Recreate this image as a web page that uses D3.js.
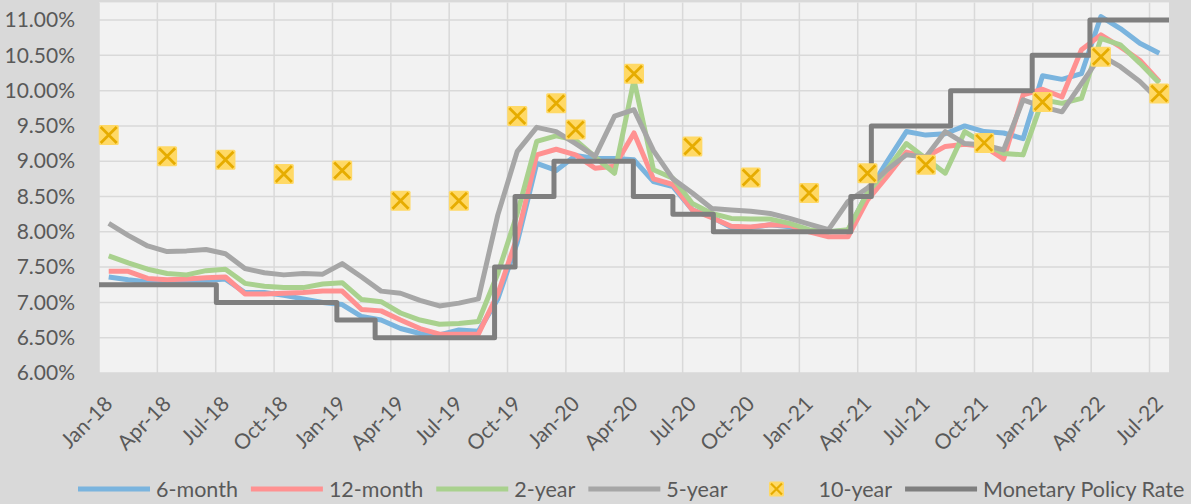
<!DOCTYPE html>
<html>
<head>
<meta charset="utf-8">
<script src="https://cdn.jsdelivr.net/npm/d3@7"></script>
<style>
  body { margin: 0; background: #d9d9d9; }
  svg { display: block; font-family: Lato, "Open Sans", sans-serif; }
</style>
</head>
<body>
<div id="chart"></div>
<script>
// categories (one per month)
var months = [
    "Jan-18", "Feb-18", "Mar-18", "Apr-18", "May-18", "Jun-18", "Jul-18", "Aug-18", "Sep-18", "Oct-18", "Nov-18", "Dec-18",
    "Jan-19", "Feb-19", "Mar-19", "Apr-19", "May-19", "Jun-19", "Jul-19", "Aug-19", "Sep-19", "Oct-19", "Nov-19", "Dec-19",
    "Jan-20", "Feb-20", "Mar-20", "Apr-20", "May-20", "Jun-20", "Jul-20", "Aug-20", "Sep-20", "Oct-20", "Nov-20", "Dec-20",
    "Jan-21", "Feb-21", "Mar-21", "Apr-21", "May-21", "Jun-21", "Jul-21", "Aug-21", "Sep-21", "Oct-21", "Nov-21", "Dec-21",
    "Jan-22", "Feb-22", "Mar-22", "Apr-22", "May-22", "Jun-22", "Jul-22"
];

var sixMonth = [
    7.36, 7.32, 7.29, 7.29, 7.29, 7.31, 7.33, 7.14, 7.14, 7.10, 7.05, 7.00,
    6.97, 6.80, 6.75, 6.63, 6.56, 6.54, 6.61, 6.59, 7.05, 7.85, 8.97, 8.87,
    9.08, 9.04, 9.04, 9.02, 8.71, 8.64, 8.31, 8.21, 8.06, 8.06, 8.10, 8.07,
    8.01, 8.00, 8.02, 8.55, 8.99, 9.42, 9.37, 9.39, 9.50, 9.42, 9.40, 9.32,
    10.21, 10.16, 10.24, 11.05, 10.88, 10.67, 10.53
];
var twelveMonth = [
    7.44, 7.44, 7.34, 7.32, 7.33, 7.35, 7.36, 7.12, 7.12, 7.13, 7.14, 7.16,
    7.16, 6.90, 6.88, 6.75, 6.63, 6.55, 6.55, 6.55, 7.12, 7.93, 9.09, 9.17,
    9.09, 8.90, 8.93, 9.40, 8.75, 8.67, 8.31, 8.20, 8.08, 8.07, 8.10, 8.09,
    8.00, 7.93, 7.93, 8.45, 8.78, 9.13, 9.06, 9.21, 9.24, 9.21, 9.03, 9.94,
    10.02, 9.91, 10.58, 10.79, 10.62, 10.43, 10.13
];
var twoYear = [
    7.66, 7.56, 7.47, 7.41, 7.39, 7.45, 7.47, 7.27, 7.23, 7.21, 7.21, 7.26,
    7.28, 7.04, 7.01, 6.85, 6.75, 6.69, 6.70, 6.73, 7.41, 8.26, 9.28, 9.36,
    9.30, 9.06, 8.83, 10.15, 8.88, 8.76, 8.40, 8.26, 8.19, 8.18, 8.18, 8.12,
    8.03, 8.00, 8.03, 8.55, 8.88, 9.25, 9.04, 8.83, 9.42, 9.25, 9.11, 9.09,
    9.87, 9.82, 9.89, 10.74, 10.65, 10.39, 10.11
];
var fiveYear = [
    8.12, 7.95, 7.80, 7.72, 7.73, 7.75, 7.69, 7.48, 7.42, 7.39, 7.41, 7.40,
    7.55, 7.36, 7.16, 7.13, 7.03, 6.95, 6.99, 7.05, 8.24, 9.14, 9.48, 9.42,
    9.25, 9.07, 9.64, 9.73, 9.15, 8.75, 8.55, 8.33, 8.31, 8.29, 8.26, 8.19,
    8.11, 8.03, 8.43, 8.62, 8.88, 9.09, 9.06, 9.42, 9.25, 9.23, 9.16, 9.87,
    9.77, 9.70, 10.10, 10.50, 10.34, 10.13, 9.86
];
var tenYear = [
    9.37, null, null, 9.07, null, null, 9.02, null, null, 8.82, null, null,
    8.87, null, null, 8.44, null, null, 8.44, null, null, 9.64, null, 9.82,
    9.45, null, null, 10.24, null, null, 9.21, null, null, 8.77, null, null,
    8.55, null, null, 8.83, null, null, 8.95, null, null, 9.26, null, null,
    9.84, null, null, 10.48, null, null, 9.96
];

// monetary policy rate: date of each change and the new rate
var policyDates = [
    "2018-01-01", "2018-07-02", "2019-01-08", "2019-03-07", "2019-09-11", "2019-10-13",
    "2019-12-13", "2020-04-15", "2020-06-16", "2020-08-19", "2021-03-21", "2021-04-22",
    "2021-08-25", "2021-12-31", "2022-03-30", "2022-08-01"
];
var policyRates = [
    7.25, 7.00, 6.75, 6.50, 7.50, 8.50,
    9.00, 8.50, 8.25, 8.00, 8.50, 9.50,
    10.00, 10.50, 11.00, 11.00
];

var xTickLabels = [
    "Jan-18", "Apr-18", "Jul-18", "Oct-18", "Jan-19", "Apr-19", "Jul-19", "Oct-19", "Jan-20", "Apr-20",
    "Jul-20", "Oct-20", "Jan-21", "Apr-21", "Jul-21", "Oct-21", "Jan-22", "Apr-22", "Jul-22"
];
var yTicks = [6.00, 6.50, 7.00, 7.50, 8.00, 8.50, 9.00, 9.50, 10.00, 10.50, 11.00];

var seriesNames = ["6-month", "12-month", "2-year", "5-year", "10-year", "Monetary Policy Rate"];
var seriesColors = ["#7ab4de", "#ff9191", "#a9d18e", "#a6a6a6", "#ffd966", "#7f7f7f"];

var width = 1191;
var height = 504;
// note: "top" is taken by window.top, hence the plot* names
var plotLeft = 99, plotRight = 1169, plotTop = 2.4, plotBottom = 373;
var textColor = "#595959";
var markerStroke = "#e6ac00";

var svg = d3.select("#chart").append("svg")
    .attr("width", width)
    .attr("height", height);

svg.append("rect")
    .attr("width", width)
    .attr("height", height)
    .attr("fill", "#d9d9d9");

var x = d3.scaleBand().domain(months).range([plotLeft, plotRight]);
var xMonth = d3.scaleLinear().domain([0, months.length]).range([plotLeft, plotRight]);
var y = d3.scaleLinear().domain([6, 11.25]).range([plotBottom, plotTop]);

function cx(i) {
    return x(months[i]) + x.bandwidth() / 2;
}

// fractional month index of a date, so the policy steps land inside the month
function monthPos(s) {
    var d = d3.timeParse("%Y-%m-%d")(s);
    var start = d3.timeMonth.floor(d);
    var next = d3.timeMonth.offset(start, 1);
    var idx = (d.getFullYear() - 2018) * 12 + d.getMonth();
    return idx + (d - start) / (next - start);
}

svg.append("rect")
    .attr("x", plotLeft)
    .attr("y", plotTop)
    .attr("width", plotRight - plotLeft)
    .attr("height", plotBottom - plotTop)
    .attr("fill", "#f2f2f2");

// grid
svg.append("g")
    .selectAll("line")
    .data(yTicks)
    .enter()
    .append("line")
    .attr("x1", plotLeft)
    .attr("x2", plotRight)
    .attr("y1", function (d) { return y(d); })
    .attr("y2", function (d) { return y(d); })
    .attr("stroke", "#d9d9d9")
    .attr("stroke-width", 1.5);

svg.append("g")
    .selectAll("line")
    .data(months.filter(function (d, i) { return i % 3 === 0; }))
    .enter()
    .append("line")
    .attr("x1", function (d) { return x(d); })
    .attr("x2", function (d) { return x(d); })
    .attr("y1", plotTop)
    .attr("y2", plotBottom)
    .attr("stroke", "#d9d9d9")
    .attr("stroke-width", 1.5);

// y axis labels
var yAxis = svg.append("g")
    .attr("transform", "translate(" + plotLeft + ",0)")
    .call(d3.axisLeft(y)
        .tickValues(yTicks)
        .tickSize(0)
        .tickPadding(24)
        .tickFormat(function (d) { return d3.format(".2f")(d) + "%"; }));
yAxis.select(".domain").remove();
yAxis.selectAll("text")
    .attr("font-family", "Lato, 'Open Sans', sans-serif")
    .attr("font-size", "21px")
    .attr("fill", textColor);

// x axis labels
svg.append("g")
    .selectAll("text")
    .data(xTickLabels)
    .enter()
    .append("text")
    .attr("transform", function (d) {
        return "translate(" + cx(months.indexOf(d)) + "," + 400 + ") rotate(-45)";
    })
    .attr("text-anchor", "end")
    .attr("dy", "0.35em")
    .attr("font-size", "21px")
    .attr("fill", textColor)
    .text(function (d) { return d; });

// yield lines
var lineSeries = [sixMonth, twelveMonth, twoYear, fiveYear];
var line = d3.line()
    .defined(function (d) { return d != null; })
    .x(function (d, i) { return cx(i); })
    .y(function (d) { return y(d); });

svg.append("g")
    .selectAll("path")
    .data(lineSeries)
    .enter()
    .append("path")
    .attr("d", line)
    .attr("fill", "none")
    .attr("stroke", function (d, i) { return seriesColors[i]; })
    .attr("stroke-width", 5)
    .attr("stroke-linejoin", "round");

// policy rate step line
var policy = policyDates.map(function (d, i) {
    return [monthPos(d), policyRates[i]];
});
svg.append("path")
    .datum(policy)
    .attr("d", d3.line()
        .curve(d3.curveStepAfter)
        .x(function (d) { return xMonth(d[0]); })
        .y(function (d) { return y(d[1]); }))
    .attr("fill", "none")
    .attr("stroke", seriesColors[5])
    .attr("stroke-width", 5)
    .attr("stroke-linejoin", "round");

// 10-year markers
function drawMarker(g, size) {
    var h = size / 2;
    var k = h - 2;
    g.append("rect")
        .attr("x", -h)
        .attr("y", -h)
        .attr("width", size)
        .attr("height", size)
        .attr("rx", 1.5)
        .attr("fill", seriesColors[4]);
    g.append("path")
        .attr("d", "M" + -k + "," + -k + "L" + k + "," + k + "M" + -k + "," + k + "L" + k + "," + -k)
        .attr("stroke", markerStroke)
        .attr("stroke-width", size > 16 ? 2.8 : 2.2);
}

svg.append("g")
    .selectAll("g")
    .data(tenYear.map(function (v, i) { return { i: i, v: v }; })
        .filter(function (d) { return d.v != null; }))
    .enter()
    .append("g")
    .attr("transform", function (d) { return "translate(" + cx(d.i) + "," + y(d.v) + ")"; })
    .each(function () { drawMarker(d3.select(this), 20); });

// legend
var legend = svg.append("g").attr("transform", "translate(78,489)");
var lx = 0;
seriesNames.forEach(function (name, i) {
    var item = legend.append("g").attr("transform", "translate(" + lx + ",0)");
    if (i === 4) {
        var m = item.append("g").attr("transform", "translate(36,0)");
        drawMarker(m, 15);
    } else {
        item.append("line")
            .attr("x1", 0)
            .attr("x2", 72)
            .attr("stroke", seriesColors[i])
            .attr("stroke-width", 5);
    }
    var t = item.append("text")
        .attr("x", 78)
        .attr("dy", "0.35em")
        .attr("font-size", "21.5px")
        .attr("fill", textColor)
        .text(name);
    lx += 78 + t.node().getComputedTextLength() + 13;
});
</script>
</body>
</html>
